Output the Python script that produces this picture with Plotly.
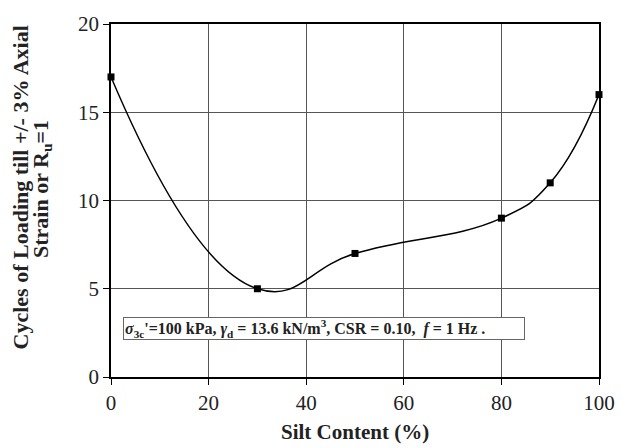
import plotly.graph_objects as go

silt = [0, 30, 50, 80, 90, 100]
cycles = [17, 5, 7, 9, 11, 16]
x_ticks = [0, 20, 40, 60, 80, 100]
y_ticks = [0, 5, 10, 15, 20]

L, R, T, B = 111, 19, 17, 71
W, H = 627, 448
pw = W - L - R
ph = H - T - B


def px_x(p):
    return (p - L) / pw


def px_y(p):
    return 1 - (p - T) / ph


fig = go.Figure()
fig.add_trace(go.Scatter(
    x=silt, y=cycles, mode="lines+markers",
    line=dict(color="black", width=1.5, shape="spline", smoothing=1.3),
    marker=dict(symbol="square", size=7, color="black"),
    showlegend=False, cliponaxis=False,
))

serif = "Liberation Serif"
axis_common = dict(
    showline=True, linecolor="black", linewidth=1.5, mirror=True,
    showgrid=True, gridcolor="#555555", gridwidth=1,
    ticks="outside", ticklen=6, tickcolor="black", tickwidth=1,
    tickfont=dict(family=serif, size=21, color="#222222"),
    zeroline=False,
)
fig.update_xaxes(range=[0, 100], tickvals=x_ticks, **axis_common)
fig.update_yaxes(range=[0, 20], tickvals=y_ticks, **axis_common)

fig.add_annotation(
    xref="paper", yref="paper",
    x=px_x(360), y=px_y(447), xanchor="center", yanchor="bottom",
    showarrow=False,
    text="<b>Silt Content (%)</b>",
    font=dict(family=serif, size=21, color="#222222"),
)

fig.add_annotation(
    xref="paper", yref="paper",
    x=px_x(19), y=px_y(184), xanchor="center", yanchor="middle",
    textangle=-90, showarrow=False,
    text="<b>Cycles of Loading till +/- 3% Axial</b>",
    font=dict(family=serif, size=22, color="#222222"),
)
fig.add_annotation(
    xref="paper", yref="paper",
    x=px_x(40), y=px_y(185), xanchor="center", yanchor="middle",
    textangle=-90, showarrow=False,
    text="<b>Strain or R<sub>u</sub>=1</b>",
    font=dict(family=serif, size=22, color="#222222"),
)

fig.add_annotation(
    xref="paper", yref="y",
    x=px_x(123), y=2.75, xanchor="left", yanchor="middle",
    showarrow=False,
    text="<b><i>σ</i><sub>3c</sub>'=100 kPa, <i>γ</i><sub>d</sub> = 13.6 kN/m<sup>3</sup>, CSR = 0.10,  <i>f</i> = 1 Hz .</b>",
    font=dict(family=serif, size=16, color="#222222"),
    bgcolor="white", bordercolor="#666666", borderwidth=1, borderpad=1,
    width=398, height=19, align="left", valign="middle",
)

fig.update_layout(
    width=W, height=H,
    margin=dict(l=L, r=R, t=T, b=B),
    plot_bgcolor="white", paper_bgcolor="white",
)

fig.write_html(
    "out.html",
    config={"displayModeBar": False},
    post_script=(
        "document.body.style.margin='0';"
        "document.body.style.overflow='hidden';"
        "var d=document.getElementById('{plot_id}');"
        "d.style.position='fixed';d.style.left='0px';d.style.top='0px';"
    ),
)
